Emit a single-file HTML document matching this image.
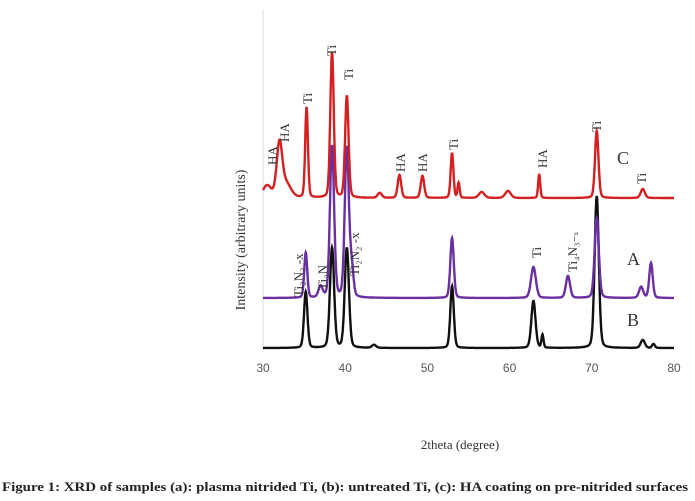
<!DOCTYPE html>
<html><head><meta charset="utf-8"><style>
body{margin:0;background:#fff;}
svg{display:block;font-family:"Liberation Serif",serif;}
</style></head><body>
<svg id="chart" width="695" height="501" viewBox="0 0 695 501">
<line x1="263" y1="10" x2="263" y2="350" stroke="#d9d9d9" stroke-width="1"/>
<g id="xticks" font-size="12" fill="#555" font-family="Liberation Sans, sans-serif"></g>
<g id="series"></g>
<g font-size="13" fill="#333">
<text transform="translate(277,165) rotate(-90)">HA</text>
<text transform="translate(289,142) rotate(-90)">HA</text>
<text transform="translate(312,104) rotate(-90)">Ti</text>
<text transform="translate(336,56) rotate(-90)">Ti</text>
<text transform="translate(353,80) rotate(-90)">Ti</text>
<text transform="translate(405,172) rotate(-90)">HA</text>
<text transform="translate(427,172) rotate(-90)">HA</text>
<text transform="translate(458,150) rotate(-90)">Ti</text>
<text transform="translate(547,168) rotate(-90)">HA</text>
<text transform="translate(601,132) rotate(-90)">Ti</text>
<text transform="translate(646,184) rotate(-90)">Ti</text>
<text transform="translate(303,297) rotate(-90)">Ti₂N₂ -x</text>
<text transform="translate(327,290) rotate(-90)">Ti₂N</text>
<text transform="translate(359,276) rotate(-90)">Ti₂N₂ -x</text>
<text transform="translate(541,258) rotate(-90)">Ti</text>
<text transform="translate(577,272) rotate(-90)">Ti₄N₃₋ₓ</text>
</g>
<text x="617" y="164" font-size="18" fill="#333">C</text>
<text x="627" y="265" font-size="18" fill="#333">A</text>
<text x="627" y="326" font-size="18" fill="#333">B</text>
<text transform="translate(245,240) rotate(-90)" text-anchor="middle" font-size="14" fill="#333">Intensity (arbitrary units)</text>
<text x="460" y="449" text-anchor="middle" font-size="13" fill="#333">2theta (degree)</text>
<text x="2" y="491" font-size="13" font-weight="bold" fill="#222" textLength="686" lengthAdjust="spacingAndGlyphs">Figure 1: XRD of samples (a): plasma nitrided Ti, (b): untreated Ti, (c): HA coating on pre-nitrided surfaces</text>
</svg>
<script>
const xTicks=[30,40,50,60,70,80];
// peak positions (2theta), heights (arb.), widths
const bPos=[35.2,38.4,40.2,53.0,62.9,64.0,70.6,76.2,77.5,43.5];
const bHeight=[56,100,100,62,47,13,152,8,4,3];
const bWidth=[0.25,0.3,0.3,0.25,0.3,0.15,0.3,0.3,0.2,0.3];
const aPos=[35.2,37.0,38.4,40.2,40.8,53.0,62.9,67.1,70.6,76.0,77.2];
const aHeight=[45,11,152,150,28,60,31,22,80,11,35];
const aWidth=[0.22,0.3,0.3,0.3,0.25,0.25,0.35,0.3,0.3,0.3,0.25];
const cPos=[30.5,32.0,32.8,35.3,38.4,40.2,44.2,46.6,49.4,53.0,53.8,56.6,59.8,63.6,70.6,76.2];
const cHeight=[12,52,14,90,145,102,5,23,22,45,15,6,7,24,67,9];
const cWidth=[0.6,0.4,0.7,0.2,0.25,0.25,0.3,0.25,0.25,0.2,0.15,0.4,0.4,0.15,0.25,0.3];
const baseline=[0,50,150]; // B, A, C offsets

const svg=document.getElementById('chart');
const NS='http://www.w3.org/2000/svg';
function xScale(v){return 263+(v-30)*8.22;}
function yScale(v){return 348-v;}
const tg=document.getElementById('xticks');
xTicks.forEach(t=>{
  const e=document.createElementNS(NS,'text');
  e.setAttribute('x',xScale(t));e.setAttribute('y',372);e.setAttribute('text-anchor','middle');
  e.textContent=t;
  
  
  tg.appendChild(e);
});
function curve(pos,h,w,off){
  let d='';
  for(let x=30;x<=80.001;x+=0.04){
    let v=off;
    for(let i=0;i<pos.length;i++){const z=(x-pos[i])/w[i];v+=h[i]*(0.8*Math.exp(-z*z*0.7)+0.2/(1+z*z));}
    d+=(d?'L':'M')+xScale(x).toFixed(1)+','+yScale(v).toFixed(1);
  }
  return d;
}
const sg=document.getElementById('series');
[['series-b',bPos,bHeight,bWidth,baseline[0],'#111'],
 ['series-a',aPos,aHeight,aWidth,baseline[1],'#6a2fa0'],
 ['series-c',cPos,cHeight,cWidth,baseline[2],'#d42020']].forEach(s=>{
  const p=document.createElementNS(NS,'path');
  p.setAttribute('d',curve(s[1],s[2],s[3],s[4]));
  p.setAttribute('fill','none');p.setAttribute('stroke',s[5]);p.setAttribute('stroke-width','2.4');
  
  
  sg.appendChild(p);
});
</script>
</body></html>
